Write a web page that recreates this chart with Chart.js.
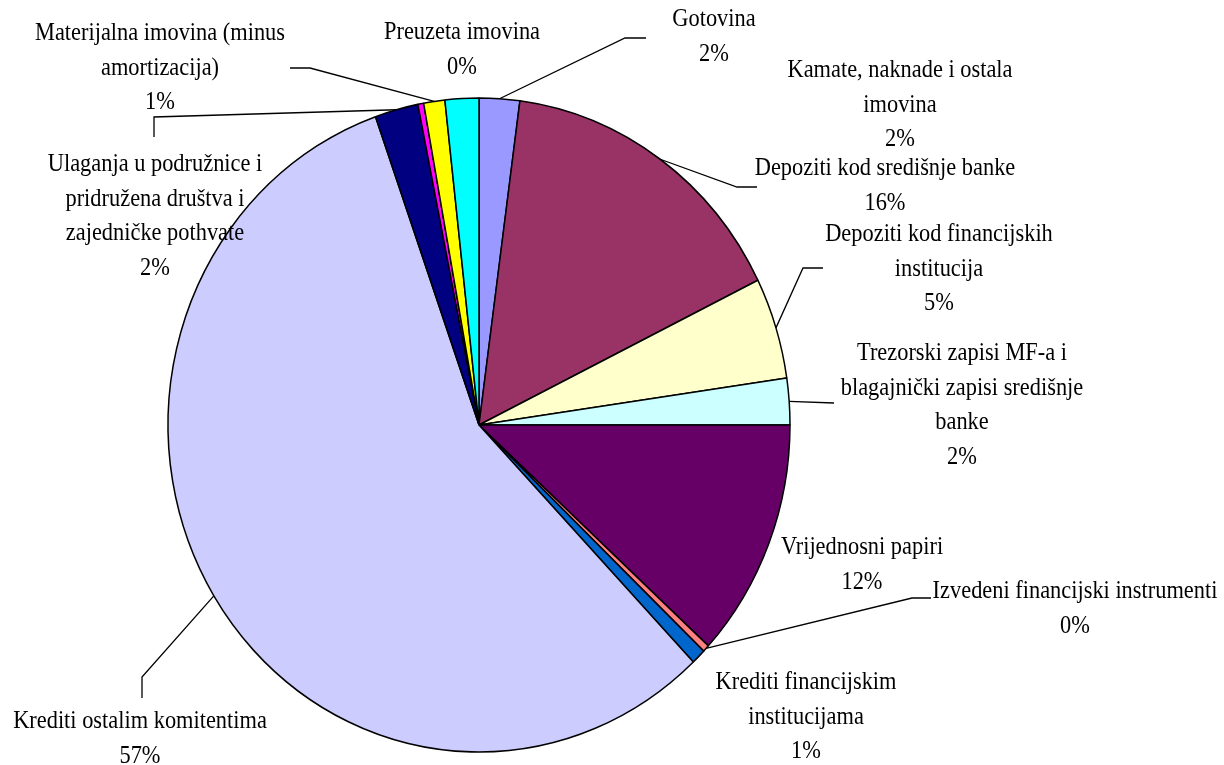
<!DOCTYPE html>
<html><head><meta charset="utf-8">
<script src="https://cdn.jsdelivr.net/npm/chart.js@4/dist/chart.umd.min.js"></script>
<style>html,body{margin:0;padding:0;background:#fff;}canvas{display:block;}</style>
</head><body>
<canvas id="c" width="1224" height="765"></canvas>
<script>
// ---- data ----
const categories = [
  ['Gotovina'],
  ['Depoziti kod središnje banke'],
  ['Depoziti kod financijskih', 'institucija'],
  ['Trezorski zapisi MF-a i', 'blagajnički zapisi središnje', 'banke'],
  ['Vrijednosni papiri'],
  ['Izvedeni financijski instrumenti'],
  ['Krediti financijskim', 'institucijama'],
  ['Krediti ostalim komitentima'],
  ['Ulaganja u podružnice i', 'pridružena društva i', 'zajedničke pothvate'],
  ['Preuzeta imovina'],
  ['Materijalna imovina (minus', 'amortizacija)'],
  ['Kamate, naknade i ostala', 'imovina']
];
const shares = [2.1, 15.6, 5.0, 2.3, 11.8, 0.35, 0.75, 56.7, 2.25, 0.3, 1.1, 1.75];
const colors = ['#9999FF', '#993366', '#FFFFCC', '#CCFFFF', '#660066', '#FF8080',
                '#0066CC', '#CCCCFF', '#000080', '#FF00FF', '#FFFF00', '#00FFFF'];

// ---- layout (label anchor: centre x, first line centre y; leader bend points) ----
const labelLayout = [
  {x: 714, y: 20,  leader: [[625, 38], [646, 38]]},
  {x: 885, y: 169, leader: [[737, 187], [757, 187]]},
  {x: 939, y: 235, leader: [[803, 268], [823, 268]]},
  {x: 962, y: 354, leader: [[834, 403]]},
  {x: 862, y: 548, leader: null},
  {x: 1075, y: 592, leader: [[912, 598], [931, 598]]},
  {x: 806, y: 683, leader: null},
  {x: 140, y: 722, leader: [[142, 677], [142, 698]]},
  {x: 155, y: 165, leader: [[154, 117], [154, 137]]},
  {x: 462, y: 33,  leader: null},
  {x: 160, y: 34,  leader: [[310, 68], [290, 68]]},
  {x: 900, y: 71,  leader: null}
];
const LINE_H = 34.5;
const STRETCH_Y = 327 / 311;
const FONT = '22.4px "Liberation Serif", "Times New Roman", serif';
const TEXT_SY = 1.1;

const stretchPlugin = {
  id: 'stretch',
  beforeDatasetsDraw(chart) {
    const arc = chart.getDatasetMeta(0).data[0];
    const ctx = chart.ctx;
    ctx.save();
    ctx.translate(arc.x, arc.y);
    ctx.scale(1, STRETCH_Y);
    ctx.translate(-arc.x, -arc.y);
  },
  afterDatasetsDraw(chart) {
    chart.ctx.restore();
  }
};

const labelPlugin = {
  id: 'labels',
  afterDraw(chart) {
    const ctx = chart.ctx;
    const meta = chart.getDatasetMeta(0);
    const data = chart.data.datasets[0].data;
    const total = data.reduce((a, b) => a + b, 0);
    ctx.save();
    ctx.strokeStyle = '#000';
    ctx.lineWidth = 1.3;
    meta.data.forEach((arc, i) => {
      const lay = labelLayout[i];
      if (!lay.leader) return;
      const mid = (arc.startAngle + arc.endAngle) / 2;
      const sx = arc.x + Math.cos(mid) * arc.outerRadius;
      const sy = arc.y + Math.sin(mid) * arc.outerRadius * STRETCH_Y;
      ctx.beginPath();
      ctx.moveTo(sx, sy);
      lay.leader.forEach(p => ctx.lineTo(p[0], p[1]));
      ctx.stroke();
    });
    ctx.fillStyle = '#000';
    ctx.font = FONT;
    ctx.textAlign = 'center';
    ctx.textBaseline = 'middle';
    chart.data.labels.forEach((lbl, i) => {
      const lay = labelLayout[i];
      const lines = lbl.concat([Math.round(data[i] / total * 100) + '%']);
      lines.forEach((t, k) => {
        ctx.save();
        ctx.translate(lay.x, lay.y + k * LINE_H);
        ctx.scale(1, TEXT_SY);
        ctx.fillText(t, 0, 0);
        ctx.restore();
      });
    });
    ctx.restore();
  }
};

new Chart(document.getElementById('c'), {
  type: 'pie',
  data: {
    labels: categories,
    datasets: [{
      data: shares,
      backgroundColor: colors,
      borderColor: '#000',
      borderWidth: 1.5,
      clip: false
    }]
  },
  options: {
    responsive: false,
    devicePixelRatio: 1,
    animation: false,
    radius: 311,
    layout: {padding: {left: 168, right: 434, top: 114, bottom: 29}},
    plugins: {legend: {display: false}, tooltip: {enabled: false}}
  },
  plugins: [stretchPlugin, labelPlugin]
});
</script>
</body></html>
